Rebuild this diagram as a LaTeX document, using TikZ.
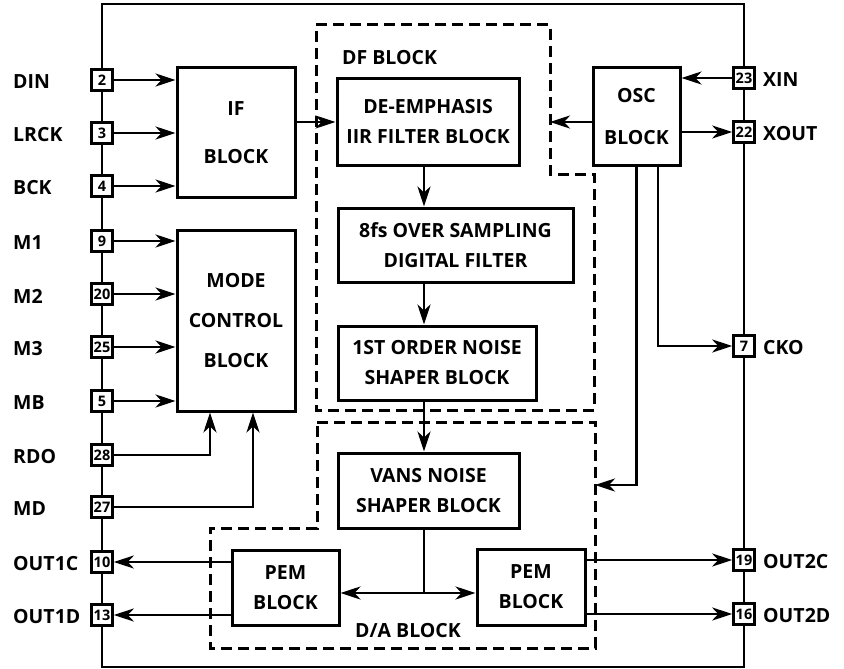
\documentclass[tikz,border=0pt]{standalone}
\usepackage{fontspec}
\setmainfont{Open Sans}
\usetikzlibrary{arrows.meta}

\tikzset{
  blk/.style={draw, line width=3pt, align=center, inner sep=0pt,
    font=\bfseries\fontsize{19.5}{30}\selectfont},
  pin/.style={draw, line width=2.6pt, fill=white, minimum size=21pt,
    inner sep=0pt, font=\bfseries\fontsize{14.5}{15}\selectfont},
  pinlbl/.style={font=\bfseries\fontsize{19.5}{22}\selectfont, inner sep=0pt},
  arr/.style={line width=2.8pt, -{Stealth[length=20pt,width=13pt,inset=6pt]}},
  zone/.style={line width=3pt, dash pattern=on 11pt off 6pt}
}

\begin{document}
\begin{tikzpicture}[x=1pt,y=-1pt]
    \useasboundingbox (0,0) rectangle (844,669);

    % Boitier
    \draw[line width=2.4pt] (102,4) rectangle (744,667);

    % Broches gauche
    \node[pin] (p2) at (102,80) {2};
    \node[pin] (p3) at (102,133) {3};
    \node[pin] (p4) at (102,186) {4};
    \node[pin] (p9) at (102,241) {9};
    \node[pin] (p20) at (102,294) {20};
    \node[pin] (p25) at (102,347) {25};
    \node[pin] (p5) at (102,401) {5};
    \node[pin] (p28) at (102,455) {28};
    \node[pin] (p27) at (102,507) {27};
    \node[pin] (p10) at (102,562) {10};
    \node[pin] (p13) at (102,615) {13};

    \node[pinlbl, anchor=west] (ldin) at (13,82) {DIN};
    \node[pinlbl, anchor=west] (llrck) at (13,135) {LRCK};
    \node[pinlbl, anchor=west] (lbck) at (13,188) {BCK};
    \node[pinlbl, anchor=west] (lm1) at (13,243) {M1};
    \node[pinlbl, anchor=west] (lm2) at (13,296) {M2};
    \node[pinlbl, anchor=west] (lm3) at (13,349) {M3};
    \node[pinlbl, anchor=west] (lmb) at (13,403) {MB};
    \node[pinlbl, anchor=west] (lrdo) at (13,457) {RDO};
    \node[pinlbl, anchor=west] (lmd) at (13,509) {MD};
    \node[pinlbl, anchor=west] (lo1c) at (13,564) {OUT1C};
    \node[pinlbl, anchor=west] (lo1d) at (13,617) {OUT1D};

    % Broches droite
    \node[pin] (p23) at (744,78) {23};
    \node[pin] (p22) at (744,132) {22};
    \node[pin] (p7) at (744,346) {7};
    \node[pin] (p19) at (744,560) {19};
    \node[pin] (p16) at (744,614) {16};

    \node[pinlbl, anchor=west] (lxin) at (763,80) {XIN};
    \node[pinlbl, anchor=west] (lxout) at (763,134) {XOUT};
    \node[pinlbl, anchor=west] (lcko) at (763,348) {CKO};
    \node[pinlbl, anchor=west] (lo2c) at (763,562) {OUT2C};
    \node[pinlbl, anchor=west] (lo2d) at (763,616) {OUT2D};

    % Zones en pointilles
    \draw[zone] (316,25) -- (550,25) -- (550,174) -- (594,174) -- (594,410) -- (316,410) -- cycle;
    \draw[zone] (317,422) -- (595,422) -- (595,648) -- (210,648) -- (210,528) -- (317,528) -- cycle;
    \node[pinlbl, anchor=west] (ldf) at (342,58) {DF BLOCK};
    \node[pinlbl] (lda) at (408,631) {D/A BLOCK};

    % Blocs
    \node[blk, minimum width=118pt, minimum height=129pt,
      font=\bfseries\fontsize{19.5}{48}\selectfont] (ifb) at (236,132.5) {IF\\BLOCK};
    \node[blk, minimum width=118pt, minimum height=181pt,
      font=\bfseries\fontsize{19.5}{40}\selectfont] (mode) at (236,320.5) {MODE\\CONTROL\\BLOCK};
    \node[blk, minimum width=182pt, minimum height=86pt] (demph) at (428,122) {DE-EMPHASIS\\IIR FILTER BLOCK};
    \node[blk, minimum width=235pt, minimum height=74pt] (ovs) at (455.5,245) {8fs OVER SAMPLING\\DIGITAL FILTER};
    \node[blk, minimum width=198pt, minimum height=74pt] (nsh) at (437,363) {1ST ORDER NOISE\\SHAPER BLOCK};
    \node[blk, minimum width=181pt, minimum height=75pt] (vans) at (428.5,490.5) {VANS NOISE\\SHAPER BLOCK};
    \node[blk, minimum width=107pt, minimum height=75pt] (pema) at (285.5,587.5) {PEM\\BLOCK};
    \node[blk, minimum width=108pt, minimum height=76pt] (pemb) at (531,587) {PEM\\BLOCK};
    \node[blk, minimum width=87pt, minimum height=97pt,
      font=\bfseries\fontsize{19.5}{42}\selectfont] (osc) at (636.5,116.5) {OSC\\BLOCK};

    \coordinate (col) at (424,0);
    \coordinate (dfR) at (550,122);
    \coordinate (daR) at (595,485);
    \coordinate (split) at (424,593);

    % Entrees
    \foreach \p in {p2,p3,p4}
      \draw[arr] (\p.east) -- (\p.east -| ifb.west);
    \foreach \p in {p9,p20,p25,p5}
      \draw[arr] (\p.east) -- (\p.east -| mode.west);
    \draw[arr] (p28.east) -| ([xshift=-26pt]mode.south);
    \draw[arr] (p27.east) -| ([xshift=17pt]mode.south);

    % Chemin du signal
    \draw[arr] (ifb.east |- demph.west) -- (demph.west);
    \draw[arr] (demph.south -| col) -- (col |- ovs.north);
    \draw[arr] (ovs.south -| col) -- (col |- nsh.north);
    \draw[arr] (nsh.south -| col) -- (col |- vans.north);
    \draw[line width=2pt] (vans.south -| col) -- (split);
    \draw[arr] (split) -- (split -| pema.east);
    \draw[arr] (split) -- (split -| pemb.west);

    % Sorties
    \draw[arr] (pema.west |- p10) -- (p10.east);
    \draw[arr] (pema.west |- p13) -- (p13.east);
    \draw[arr] (pemb.east |- p19) -- (p19.west);
    \draw[arr] (pemb.east |- p16) -- (p16.west);

    % Horloge
    \draw[arr] (p23.west) -- (p23.west -| osc.east);
    \draw[arr] (osc.east |- p22) -- (p22.west);
    \draw[arr] (osc.west |- dfR) -- (dfR);
    \draw[arr] ([xshift=21.5pt]osc.south) |- (p7.west);
    \draw[arr] (osc.south) |- (daR);
\end{tikzpicture}
\end{document}
